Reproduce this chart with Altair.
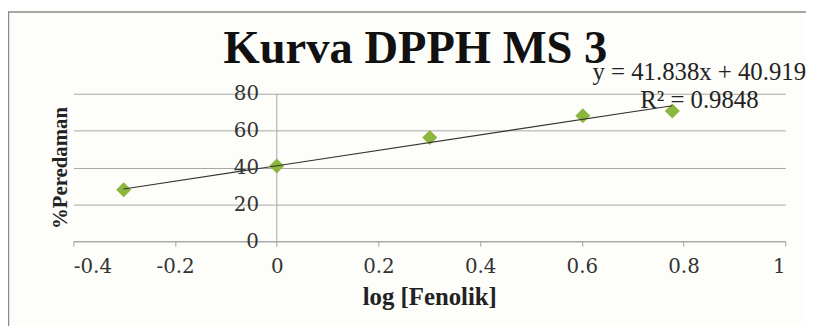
import altair as alt
import pandas as pd

# data
log_fenolik = [-0.301, 0.0, 0.301, 0.602, 0.778]
peredaman = [27.9, 40.8, 56.3, 68.0, 70.6]
slope = 41.838
intercept = 40.919
eq_text = ["y = 41.838x + 40.919", "R² = 0.9848"]
eq_x = [0.621, 0.715]
eq_y = [92.0, 76.8]
x_ticks = [-0.4, -0.2, 0, 0.2, 0.4, 0.6, 0.8, 1]
y_ticks = [0, 20, 40, 60, 80]

pts = pd.DataFrame({"x": log_fenolik, "y": peredaman})
xmin, xmax = min(log_fenolik), max(log_fenolik)
trend = pd.DataFrame({"x": [xmin, xmax], "y": [slope * xmin + intercept, slope * xmax + intercept]})
eq = pd.DataFrame({"x": eq_x, "y": eq_y, "t": eq_text})

SERIF = "Liberation Serif"
TICKF = "DejaVu Serif"
W, H = 719, 149
PL, PT, PR, PB = 66, 85, 21, 84

xscale = alt.Scale(domain=[-0.4, 1], nice=False, zero=False)
yscale = alt.Scale(domain=[0, 80], nice=False)

xaxis = alt.Axis(values=x_ticks, labelExpr="'' + datum.value", grid=False,
                 title="log [Fenolik]", titleFont=SERIF, titleFontSize=25, titleFontWeight="bold",
                 titleColor="#222", labelFont=TICKF, labelFontSize=20, labelColor="#333",
                 domainColor="#a0a0a0", tickColor="#a0a0a0", tickSize=5, labelPadding=11, titlePadding=8)

points = alt.Chart(pts).mark_point(shape="diamond", filled=True, size=230, color="#8db63f", opacity=1).encode(
    x=alt.X("x:Q", scale=xscale, axis=xaxis),
    y=alt.Y("y:Q", scale=yscale, axis=alt.Axis(values=y_ticks, orient="left", grid=True, gridColor="#a6a6a6",
                                               labels=False, ticks=False, domain=False,
                                               title="%Peredaman", titleFont=SERIF, titleFontSize=21,
                                               titleFontWeight="bold", titleColor="#222", titlePadding=3)),
)

line = alt.Chart(trend).mark_line(color="#333333", strokeWidth=1.2).encode(
    x=alt.X("x:Q", scale=xscale, axis=xaxis),
    y=alt.Y("y:Q", scale=yscale, axis=alt.Axis(values=y_ticks, orient="left", offset=-205, grid=False,
                                               ticks=False, domain=True, domainColor="#a6a6a6",
                                               labelFont=TICKF, labelFontSize=20, labelColor="#333",
                                               labelPadding=18, title=None)),
)

text = alt.Chart(eq).mark_text(font=SERIF, fontSize=25, color="#222", align="left", baseline="middle", clip=False).encode(
    x=alt.X("x:Q", scale=xscale, axis=xaxis),
    y=alt.Y("y:Q", scale=yscale, axis=None),
    text="t:N",
)

frame = alt.Chart(pd.DataFrame({"k": [0]})).mark_rect(fill=None, stroke="#8a8a8a", strokeWidth=1.5, clip=False).encode(
    x=alt.value(-PL + 0.5), x2=alt.value(W + PR + 40),
    y=alt.value(-PT + 2.5), y2=alt.value(H + PB + 40),
)

chart = alt.layer(points, line, text, frame).resolve_axis(y="independent").properties(
    width=W, height=H,
    title=alt.TitleParams("Kurva DPPH MS 3", font=SERIF, fontSize=47, fontWeight="bold",
                          color="#111", anchor="middle", frame="group", dx=-14,
                          baseline="alphabetic", offset=-53, dy=46),
    autosize=alt.AutoSizeParams(type="none"),
    padding={"left": PL, "top": PT, "right": PR, "bottom": PB},
    background="#fdfdfa",
).configure_view(strokeWidth=0)

chart.save("out.html", embed_options={"renderer": "svg", "actions": False})
